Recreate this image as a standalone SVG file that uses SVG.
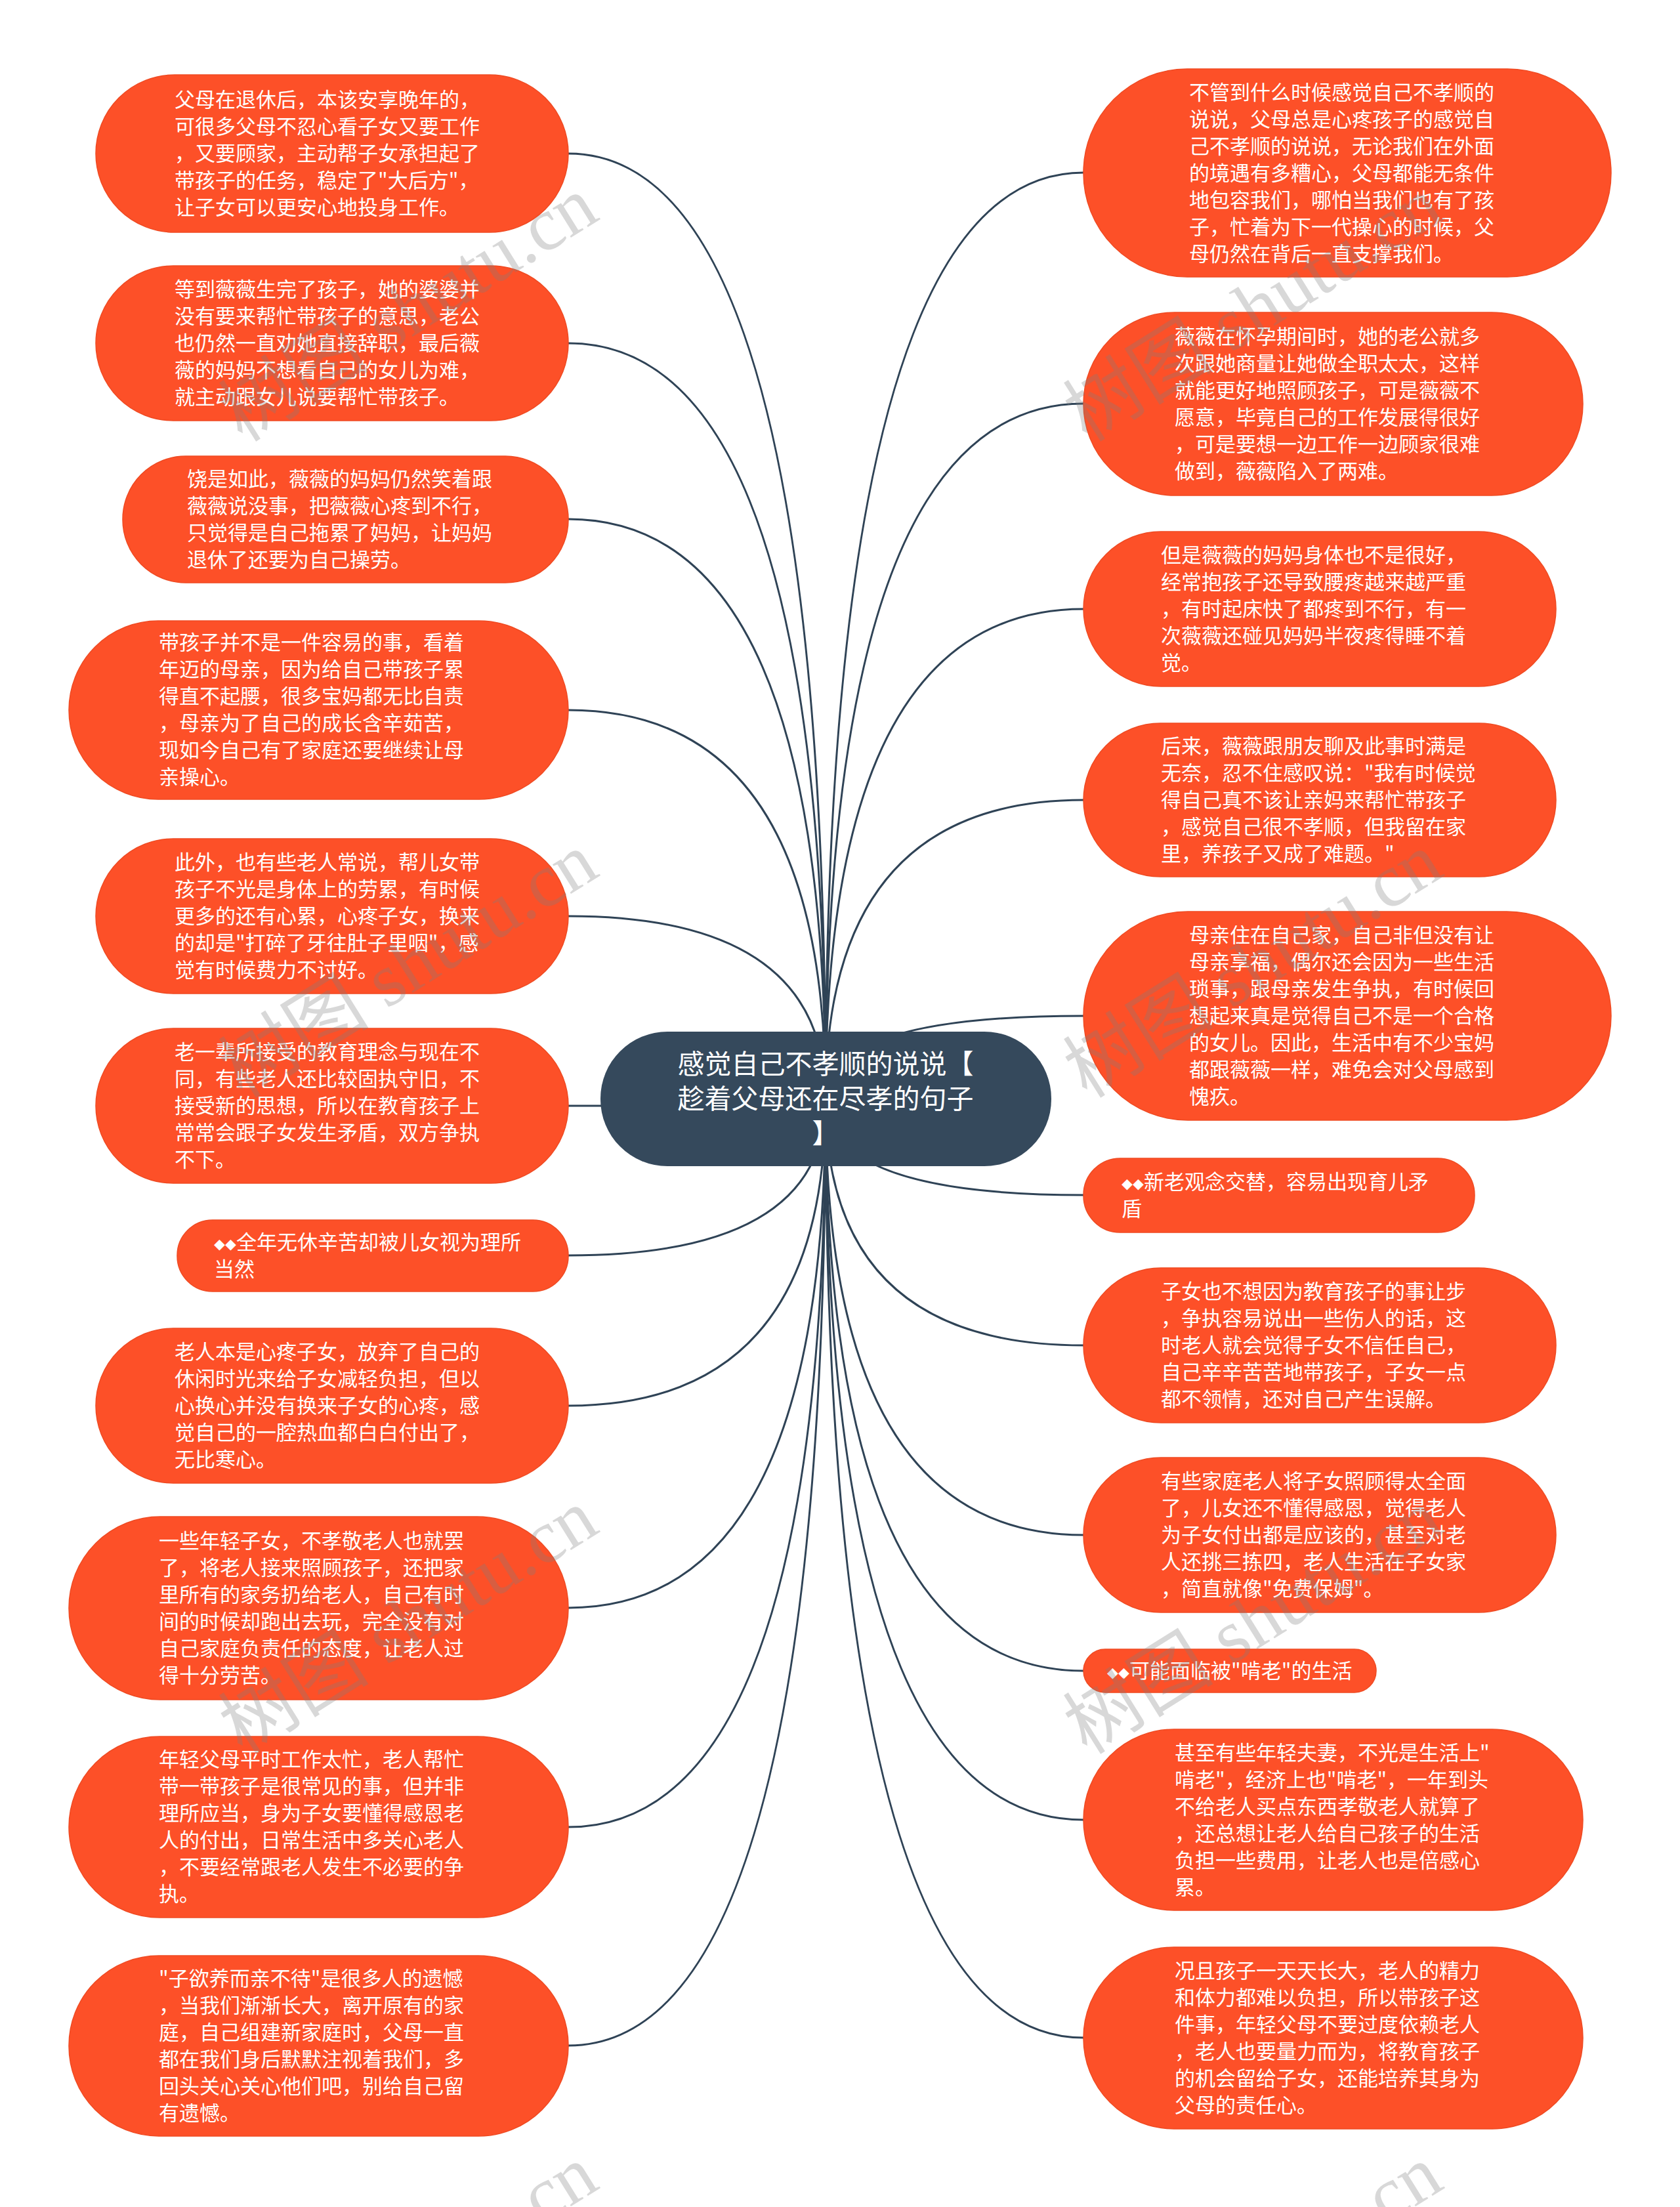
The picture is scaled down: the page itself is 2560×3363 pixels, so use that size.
<svg xmlns="http://www.w3.org/2000/svg" width="2560" height="3363" viewBox="0 0 2560 3363">
<style>
.n{fill:#fd5028;stroke:#ef4a22;stroke-width:1.5}
.c{fill:#35495c}
.t{font-family:"Noto Sans CJK SC","Noto Sans",sans-serif;font-size:31px;fill:#ffffff}
.ct{font-family:"Noto Sans CJK SC","Noto Sans",sans-serif;font-size:41px;fill:#ffffff;text-anchor:middle}
.d{font-size:17px}
.e{fill:none;stroke:#2f4356;stroke-width:3}
.w{font-family:"Liberation Serif","Noto Sans CJK SC",serif;font-size:115px;fill:#7f7f7f;opacity:0.3;text-anchor:middle}
</style>
<rect width="2560" height="3363" fill="#ffffff"/>
<g id="connectors">
<path class="e" d="M1258 1675 Q1258 234 866 234"/>
<path class="e" d="M1258 1675 Q1258 523 866 523"/>
<path class="e" d="M1258 1675 Q1258 791 866 791"/>
<path class="e" d="M1258 1675 Q1258 1082 866 1082"/>
<path class="e" d="M1258 1675 Q1258 1396 866 1396"/>
<path class="e" d="M1258 1675 Q1258 1685 866 1685"/>
<path class="e" d="M1258 1675 Q1258 1913 866 1913"/>
<path class="e" d="M1258 1675 Q1258 2142 866 2142"/>
<path class="e" d="M1258 1675 Q1258 2450 866 2450"/>
<path class="e" d="M1258 1675 Q1258 2784 866 2784"/>
<path class="e" d="M1258 1675 Q1258 3117 866 3117"/>
<path class="e" d="M1258 1675 Q1258 263 1651 263"/>
<path class="e" d="M1258 1675 Q1258 615 1651 615"/>
<path class="e" d="M1258 1675 Q1258 928 1651 928"/>
<path class="e" d="M1258 1675 Q1258 1219 1651 1219"/>
<path class="e" d="M1258 1675 Q1258 1548 1651 1548"/>
<path class="e" d="M1258 1675 Q1258 1821 1651 1821"/>
<path class="e" d="M1258 1675 Q1258 2050 1651 2050"/>
<path class="e" d="M1258 1675 Q1258 2339 1651 2339"/>
<path class="e" d="M1258 1675 Q1258 2546 1651 2546"/>
<path class="e" d="M1258 1675 Q1258 2773 1651 2773"/>
<path class="e" d="M1258 1675 Q1258 3105 1651 3105"/>
</g>
<g id="center">
<rect class="c" x="915" y="1572" width="687" height="205" rx="102"/>
<text class="ct" x="1258" y="1636"><tspan x="1258">感觉自己不孝顺的说说【</tspan><tspan x="1258" dy="53">趁着父母还在尽孝的句子</tspan><tspan x="1258" dy="53">】</tspan></text>
</g>
<g id="L1">
<rect class="n" x="146" y="114" width="720" height="240" rx="120"/>
<text class="t" x="266" y="163"><tspan x="266">父母在退休后，本该安享晚年的，</tspan><tspan x="266" dy="41">可很多父母不忍心看子女又要工作</tspan><tspan x="266" dy="41">，又要顾家，主动帮子女承担起了</tspan><tspan x="266" dy="41">带孩子的任务，稳定了"大后方"，</tspan><tspan x="266" dy="41">让子女可以更安心地投身工作。</tspan></text>
</g>
<g id="L2">
<rect class="n" x="146" y="405" width="720" height="236" rx="118"/>
<text class="t" x="266" y="452"><tspan x="266">等到薇薇生完了孩子，她的婆婆并</tspan><tspan x="266" dy="41">没有要来帮忙带孩子的意思，老公</tspan><tspan x="266" dy="41">也仍然一直劝她直接辞职，最后薇</tspan><tspan x="266" dy="41">薇的妈妈不想看自己的女儿为难，</tspan><tspan x="266" dy="41">就主动跟女儿说要帮忙带孩子。</tspan></text>
</g>
<g id="L3">
<rect class="n" x="187" y="695" width="679" height="193" rx="96"/>
<text class="t" x="285" y="741"><tspan x="285">饶是如此，薇薇的妈妈仍然笑着跟</tspan><tspan x="285" dy="41">薇薇说没事，把薇薇心疼到不行，</tspan><tspan x="285" dy="41">只觉得是自己拖累了妈妈，让妈妈</tspan><tspan x="285" dy="41">退休了还要为自己操劳。</tspan></text>
</g>
<g id="L4">
<rect class="n" x="105" y="946" width="761" height="272" rx="136"/>
<text class="t" x="242" y="990"><tspan x="242">带孩子并不是一件容易的事，看着</tspan><tspan x="242" dy="41">年迈的母亲，因为给自己带孩子累</tspan><tspan x="242" dy="41">得直不起腰，很多宝妈都无比自责</tspan><tspan x="242" dy="41">，母亲为了自己的成长含辛茹苦，</tspan><tspan x="242" dy="41">现如今自己有了家庭还要继续让母</tspan><tspan x="242" dy="41">亲操心。</tspan></text>
</g>
<g id="L5">
<rect class="n" x="146" y="1278" width="720" height="236" rx="118"/>
<text class="t" x="266" y="1325"><tspan x="266">此外，也有些老人常说，帮儿女带</tspan><tspan x="266" dy="41">孩子不光是身体上的劳累，有时候</tspan><tspan x="266" dy="41">更多的还有心累，心疼子女，换来</tspan><tspan x="266" dy="41">的却是"打碎了牙往肚子里咽"，感</tspan><tspan x="266" dy="41">觉有时候费力不讨好。</tspan></text>
</g>
<g id="L6">
<rect class="n" x="146" y="1567" width="720" height="236" rx="118"/>
<text class="t" x="266" y="1614"><tspan x="266">老一辈所接受的教育理念与现在不</tspan><tspan x="266" dy="41">同，有些老人还比较固执守旧，不</tspan><tspan x="266" dy="41">接受新的思想，所以在教育孩子上</tspan><tspan x="266" dy="41">常常会跟子女发生矛盾，双方争执</tspan><tspan x="266" dy="41">不下。</tspan></text>
</g>
<g id="L7">
<rect class="n" x="270" y="1859" width="596" height="109" rx="54"/>
<text class="t" x="326" y="1904"><tspan x="326"><tspan class="d">◆◆</tspan>全年无休辛苦却被儿女视为理所</tspan><tspan x="326" dy="41">当然</tspan></text>
</g>
<g id="L8">
<rect class="n" x="146" y="2024" width="720" height="236" rx="118"/>
<text class="t" x="266" y="2071"><tspan x="266">老人本是心疼子女，放弃了自己的</tspan><tspan x="266" dy="41">休闲时光来给子女减轻负担，但以</tspan><tspan x="266" dy="41">心换心并没有换来子女的心疼，感</tspan><tspan x="266" dy="41">觉自己的一腔热血都白白付出了，</tspan><tspan x="266" dy="41">无比寒心。</tspan></text>
</g>
<g id="L9">
<rect class="n" x="105" y="2311" width="761" height="279" rx="139"/>
<text class="t" x="242" y="2359"><tspan x="242">一些年轻子女，不孝敬老人也就罢</tspan><tspan x="242" dy="41">了，将老人接来照顾孩子，还把家</tspan><tspan x="242" dy="41">里所有的家务扔给老人，自己有时</tspan><tspan x="242" dy="41">间的时候却跑出去玩，完全没有对</tspan><tspan x="242" dy="41">自己家庭负责任的态度，让老人过</tspan><tspan x="242" dy="41">得十分劳苦。</tspan></text>
</g>
<g id="L10">
<rect class="n" x="105" y="2646" width="761" height="276" rx="138"/>
<text class="t" x="242" y="2692"><tspan x="242">年轻父母平时工作太忙，老人帮忙</tspan><tspan x="242" dy="41">带一带孩子是很常见的事，但并非</tspan><tspan x="242" dy="41">理所应当，身为子女要懂得感恩老</tspan><tspan x="242" dy="41">人的付出，日常生活中多关心老人</tspan><tspan x="242" dy="41">，不要经常跟老人发生不必要的争</tspan><tspan x="242" dy="41">执。</tspan></text>
</g>
<g id="L11">
<rect class="n" x="105" y="2980" width="761" height="275" rx="137"/>
<text class="t" x="242" y="3026"><tspan x="242">"子欲养而亲不待"是很多人的遗憾</tspan><tspan x="242" dy="41">，当我们渐渐长大，离开原有的家</tspan><tspan x="242" dy="41">庭，自己组建新家庭时，父母一直</tspan><tspan x="242" dy="41">都在我们身后默默注视着我们，多</tspan><tspan x="242" dy="41">回头关心关心他们吧，别给自己留</tspan><tspan x="242" dy="41">有遗憾。</tspan></text>
</g>
<g id="R1">
<rect class="n" x="1651" y="105" width="804" height="317" rx="158"/>
<text class="t" x="1812" y="152"><tspan x="1812">不管到什么时候感觉自己不孝顺的</tspan><tspan x="1812" dy="41">说说，父母总是心疼孩子的感觉自</tspan><tspan x="1812" dy="41">己不孝顺的说说，无论我们在外面</tspan><tspan x="1812" dy="41">的境遇有多糟心，父母都能无条件</tspan><tspan x="1812" dy="41">地包容我们，哪怕当我们也有了孩</tspan><tspan x="1812" dy="41">子，忙着为下一代操心的时候，父</tspan><tspan x="1812" dy="41">母仍然在背后一直支撑我们。</tspan></text>
</g>
<g id="R2">
<rect class="n" x="1651" y="476" width="761" height="279" rx="139"/>
<text class="t" x="1790" y="524"><tspan x="1790">薇薇在怀孕期间时，她的老公就多</tspan><tspan x="1790" dy="41">次跟她商量让她做全职太太，这样</tspan><tspan x="1790" dy="41">就能更好地照顾孩子，可是薇薇不</tspan><tspan x="1790" dy="41">愿意，毕竟自己的工作发展得很好</tspan><tspan x="1790" dy="41">，可是要想一边工作一边顾家很难</tspan><tspan x="1790" dy="41">做到，薇薇陷入了两难。</tspan></text>
</g>
<g id="R3">
<rect class="n" x="1651" y="810" width="720" height="236" rx="118"/>
<text class="t" x="1769" y="857"><tspan x="1769">但是薇薇的妈妈身体也不是很好，</tspan><tspan x="1769" dy="41">经常抱孩子还导致腰疼越来越严重</tspan><tspan x="1769" dy="41">，有时起床快了都疼到不行，有一</tspan><tspan x="1769" dy="41">次薇薇还碰见妈妈半夜疼得睡不着</tspan><tspan x="1769" dy="41">觉。</tspan></text>
</g>
<g id="R4">
<rect class="n" x="1651" y="1102" width="720" height="234" rx="117"/>
<text class="t" x="1769" y="1148"><tspan x="1769">后来，薇薇跟朋友聊及此事时满是</tspan><tspan x="1769" dy="41">无奈，忍不住感叹说："我有时候觉</tspan><tspan x="1769" dy="41">得自己真不该让亲妈来帮忙带孩子</tspan><tspan x="1769" dy="41">，感觉自己很不孝顺，但我留在家</tspan><tspan x="1769" dy="41">里，养孩子又成了难题。"</tspan></text>
</g>
<g id="R5">
<rect class="n" x="1651" y="1389" width="804" height="318" rx="159"/>
<text class="t" x="1812" y="1436"><tspan x="1812">母亲住在自己家，自己非但没有让</tspan><tspan x="1812" dy="41">母亲享福，偶尔还会因为一些生活</tspan><tspan x="1812" dy="41">琐事，跟母亲发生争执，有时候回</tspan><tspan x="1812" dy="41">想起来真是觉得自己不是一个合格</tspan><tspan x="1812" dy="41">的女儿。因此，生活中有不少宝妈</tspan><tspan x="1812" dy="41">都跟薇薇一样，难免会对父母感到</tspan><tspan x="1812" dy="41">愧疚。</tspan></text>
</g>
<g id="R6">
<rect class="n" x="1651" y="1765" width="596" height="113" rx="56"/>
<text class="t" x="1709" y="1812"><tspan x="1709"><tspan class="d">◆◆</tspan>新老观念交替，容易出现育儿矛</tspan><tspan x="1709" dy="41">盾</tspan></text>
</g>
<g id="R7">
<rect class="n" x="1651" y="1932" width="720" height="236" rx="118"/>
<text class="t" x="1769" y="1979"><tspan x="1769">子女也不想因为教育孩子的事让步</tspan><tspan x="1769" dy="41">，争执容易说出一些伤人的话，这</tspan><tspan x="1769" dy="41">时老人就会觉得子女不信任自己，</tspan><tspan x="1769" dy="41">自己辛辛苦苦地带孩子，子女一点</tspan><tspan x="1769" dy="41">都不领情，还对自己产生误解。</tspan></text>
</g>
<g id="R8">
<rect class="n" x="1651" y="2221" width="720" height="236" rx="118"/>
<text class="t" x="1769" y="2268"><tspan x="1769">有些家庭老人将子女照顾得太全面</tspan><tspan x="1769" dy="41">了，儿女还不懂得感恩，觉得老人</tspan><tspan x="1769" dy="41">为子女付出都是应该的，甚至对老</tspan><tspan x="1769" dy="41">人还挑三拣四，老人生活在子女家</tspan><tspan x="1769" dy="41">，简直就像"免费保姆"。</tspan></text>
</g>
<g id="R9">
<rect class="n" x="1651" y="2513" width="446" height="66" rx="33"/>
<text class="t" x="1687" y="2557"><tspan class="d">◆◆</tspan>可能面临被"啃老"的生活</text>
</g>
<g id="R10">
<rect class="n" x="1651" y="2635" width="761" height="276" rx="138"/>
<text class="t" x="1790" y="2682"><tspan x="1790">甚至有些年轻夫妻，不光是生活上"</tspan><tspan x="1790" dy="41">啃老"，经济上也"啃老"，一年到头</tspan><tspan x="1790" dy="41">不给老人买点东西孝敬老人就算了</tspan><tspan x="1790" dy="41">，还总想让老人给自己孩子的生活</tspan><tspan x="1790" dy="41">负担一些费用，让老人也是倍感心</tspan><tspan x="1790" dy="41">累。</tspan></text>
</g>
<g id="R11">
<rect class="n" x="1651" y="2967" width="761" height="277" rx="138"/>
<text class="t" x="1790" y="3014"><tspan x="1790">况且孩子一天天长大，老人的精力</tspan><tspan x="1790" dy="41">和体力都难以负担，所以带孩子这</tspan><tspan x="1790" dy="41">件事，年轻父母不要过度依赖老人</tspan><tspan x="1790" dy="41">，老人也要量力而为，将教育孩子</tspan><tspan x="1790" dy="41">的机会留给子女，还能培养其身为</tspan><tspan x="1790" dy="41">父母的责任心。</tspan></text>
</g>
<g id="watermarks">
<text class="w" transform="translate(643,504) rotate(-32)">树图 shutu.cn</text>
<text class="w" transform="translate(1930,504) rotate(-32)">树图 shutu.cn</text>
<text class="w" transform="translate(643,1504) rotate(-32)">树图 shutu.cn</text>
<text class="w" transform="translate(1930,1504) rotate(-32)">树图 shutu.cn</text>
<text class="w" transform="translate(643,2504) rotate(-32)">树图 shutu.cn</text>
<text class="w" transform="translate(1930,2504) rotate(-32)">树图 shutu.cn</text>
<text class="w" transform="translate(643,3504) rotate(-32)">树图 shutu.cn</text>
<text class="w" transform="translate(1930,3504) rotate(-32)">树图 shutu.cn</text>
</g>
</svg>
